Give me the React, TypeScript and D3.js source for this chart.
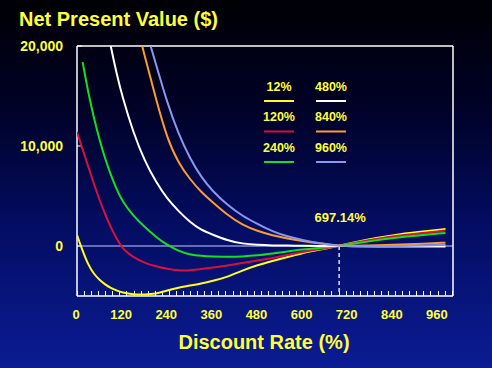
import React, { useEffect } from "react";
import * as d3 from "d3";

// ---------- data ----------
const rates = [0, 15, 30, 45, 60, 75, 90, 105, 120, 150, 180, 210, 240, 270, 300, 330, 360, 400, 440, 480, 520, 560, 600, 640, 697.14, 740, 800, 860, 920, 980];

const npv12 = [1100, -500, -1900, -2800, -3400, -3850, -4200, -4450, -4650, -4850, -4850, -4800, -4450, -4150, -3950, -3750, -3500, -3100, -2450, -1900, -1500, -1100, -700, -400, 0, 400, 850, 1200, 1450, 1700];
const npv120 = [11400, 9650, 7950, 6200, 4600, 3150, 1850, 750, -250, -1150, -1700, -2050, -2300, -2450, -2450, -2300, -2150, -1950, -1700, -1450, -1200, -900, -600, -350, 0, 350, 750, 1050, 1300, 1550];
const npv240 = [null, 18400, 15300, 12800, 10600, 8700, 7100, 5700, 4500, 3000, 1900, 900, 100, -500, -850, -1000, -1070, -1080, -1050, -950, -750, -550, -350, -200, 0, 250, 600, 900, 1100, 1300];
const npv480 = [null, null, null, null, null, 22800, 19900, 17300, 15000, 11300, 8500, 6400, 4700, 3500, 2400, 1600, 1150, 550, 230, 100, 50, 40, 20, 10, 0, -20, -40, -50, -60, -60];
const npv840 = [null, null, null, null, null, null, null, null, null, 23500, 19000, 14700, 10700, 8300, 6700, 5400, 4400, 3100, 2100, 1500, 1050, 750, 500, 280, 0, 30, 80, 150, 230, 330];
const npv960 = [null, null, null, null, null, null, null, null, null, null, 22000, 18200, 14300, 11200, 8800, 6900, 5500, 4100, 3000, 2200, 1450, 950, 600, 300, 0, -30, -30, 0, 50, 100];

const seriesNames = ["12%", "120%", "240%", "480%", "840%", "960%"];
const seriesValues = [npv12, npv120, npv240, npv480, npv840, npv960];
const seriesColors = ["#ffff1a", "#d8103c", "#14e01e", "#ffffff", "#ff9a30", "#8898ee"];

const xTickLabels = [0, 120, 240, 360, 480, 600, 720, 840, 960];
const yTickLabels = [0, 10000, 20000];
const irr = 697.14;

// ---------- layout ----------
const W = 492;
const H = 368;
const left = 77;
const right = 453;
const top = 46;
const bottom = 296;
const yellow = "#ffff38";
const font = "'Liberation Sans', Arial, sans-serif";

export default function App() {
  useEffect(() => {
    document.body.style.margin = "0";
    document.body.style.overflow = "hidden";
  }, []);

  const x = d3.scaleLinear().domain([0, 1000]).range([left, right]);
  const y = d3.scaleLinear().domain([-5000, 20000]).range([bottom, top]);

  const line = d3
    .line<[number, number | null]>()
    .defined((d) => d[1] !== null)
    .x((d) => x(d[0]))
    .y((d) => y(d[1] as number))
    .curve(d3.curveBasis);

  const minorTicks = d3.range(0, 1000, 18.8);

  const legendCols = [279, 331];
  const legendRows = [86, 116.5, 147];

  return (
    <svg
      width={W}
      height={H}
      style={{ position: "absolute", left: 0, top: 0, display: "block" }}
      fontFamily={font}
    >
      <defs>
        <linearGradient id="bg" x1="0" y1="0" x2="0" y2="1">
          <stop offset="0" stopColor="#000004" />
          <stop offset="0.3" stopColor="#000228" />
          <stop offset="0.6" stopColor="#030c60" />
          <stop offset="1" stopColor="#0b1c94" />
        </linearGradient>
        <clipPath id="plot">
          <rect x={left} y={top} width={right - left} height={bottom - top} />
        </clipPath>
      </defs>
      <rect x={0} y={0} width={W} height={H} fill="url(#bg)" />

      {/* title */}
      <text x={19} y={26} fill={yellow} fontSize={20} fontWeight="bold">
        Net Present Value ($)
      </text>

      {/* y labels */}
      {yTickLabels.map((v) => (
        <text
          key={v}
          x={63}
          y={y(v) + 5}
          fill={yellow}
          fontSize={14}
          fontWeight="bold"
          textAnchor="end"
        >
          {d3.format(",")(v)}
        </text>
      ))}

      {/* zero line */}
      <line x1={left} x2={right} y1={y(0)} y2={y(0)} stroke="#c8c8ff" strokeWidth={1} />

      {/* frame */}
      <line x1={left} x2={right} y1={top} y2={top} stroke="#ffffff" strokeWidth={1.5} />
      <line x1={right} x2={right} y1={top} y2={bottom} stroke="#ffffff" strokeWidth={1.5} />
      <line x1={left} x2={left} y1={top} y2={bottom} stroke="#ffffff" strokeWidth={1.5} />
      <line x1={left} x2={right} y1={bottom} y2={bottom} stroke="#ffffff" strokeWidth={1.5} />
      {yTickLabels.map((v) => (
        <line key={v} x1={left} x2={left + 5} y1={y(v)} y2={y(v)} stroke="#ffffff" strokeWidth={1} />
      ))}
      {minorTicks.map((t, i) => (
        <line
          key={i}
          x1={Math.round(x(t)) + 0.5}
          x2={Math.round(x(t)) + 0.5}
          y1={bottom}
          y2={bottom - 5}
          stroke="#ffffff"
          strokeWidth={1}
        />
      ))}

      {/* IRR marker */}
      <line
        x1={x(irr)}
        x2={x(irr)}
        y1={y(0)}
        y2={bottom}
        stroke="#ffffff"
        strokeWidth={1.3}
        strokeDasharray="4,3"
      />
      <text x={x(irr) + 1} y={222} fill={yellow} fontSize={13} fontWeight="bold" textAnchor="middle">
        {irr.toFixed(2)}%
      </text>

      {/* curves */}
      <g clipPath="url(#plot)">
        {seriesValues.map((vals, i) => (
          <path
            key={seriesNames[i]}
            d={line(rates.map((r, j) => [r, vals[j]] as [number, number | null])) || ""}
            fill="none"
            stroke={seriesColors[i]}
            strokeWidth={2}
            strokeLinejoin="round"
          />
        ))}
      </g>

      {/* x labels */}
      {xTickLabels.map((v) => (
        <text
          key={v}
          x={x(v) - 1}
          y={319}
          fill={yellow}
          fontSize={13}
          fontWeight="bold"
          textAnchor="middle"
        >
          {v}
        </text>
      ))}
      <text x={264} y={349} fill={yellow} fontSize={20} fontWeight="bold" textAnchor="middle">
        Discount Rate (%)
      </text>

      {/* legend */}
      {seriesNames.map((name, i) => {
        const col = Math.floor(i / 3);
        const row = i % 3;
        const cx = legendCols[col];
        const cy = legendRows[row];
        return (
          <g key={name}>
            <text
              x={cx}
              y={cy + 4.5}
              fill={yellow}
              fontSize={12.5}
              fontWeight="bold"
              textAnchor="middle"
            >
              {name}
            </text>
            <line
              x1={cx - 15}
              x2={cx + 15}
              y1={cy + 15}
              y2={cy + 15}
              stroke={seriesColors[i]}
              strokeWidth={2}
            />
          </g>
        );
      })}
    </svg>
  );
}
